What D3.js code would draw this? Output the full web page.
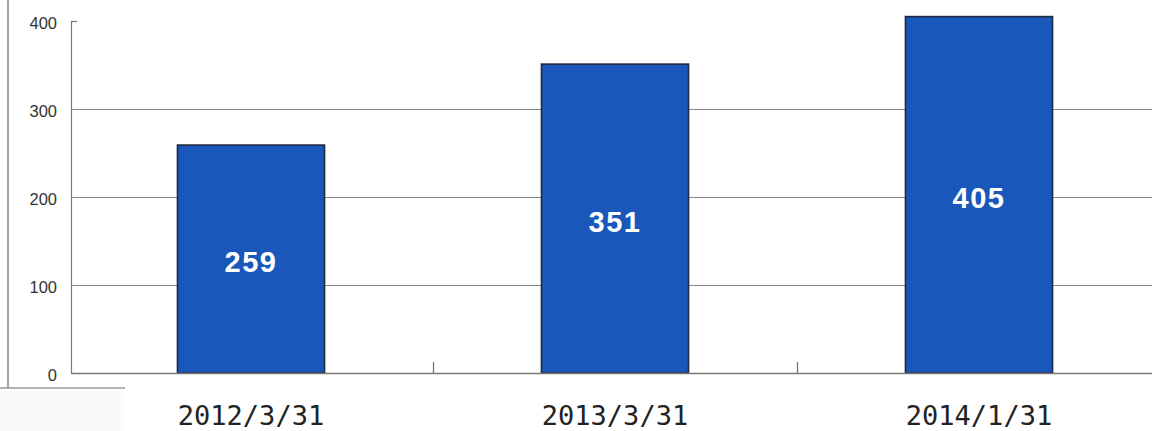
<!DOCTYPE html>
<html>
<head>
<meta charset="utf-8">
<script src="https://cdn.jsdelivr.net/npm/d3@7"></script>
<style>
  html, body { margin: 0; padding: 0; background: #fff; }
  svg { display: block; }
</style>
</head>
<body>
<svg id="chart" width="1152" height="431"></svg>
<script>
// Period-end dates and the value recorded at each
const categories = ["2012/3/31", "2013/3/31", "2014/1/31"];
const values = [259, 351, 405];
const yTicks = [0, 100, 200, 300, 400];

const W = 1152, H = 431;
const axisX = 71;       // left axis line
const plotTop = 21, plotBottom = 373;

const svg = d3.select("#chart");

const y = d3.scaleLinear().domain([0, 400]).range([plotBottom, plotTop]);

const x = d3.scaleBand()
  .domain(categories)
  .range([69, 1161])
  .paddingInner(0.596)
  .paddingOuter(0.298);

// faint panel under the bottom-left corner
svg.append("rect")
  .attr("x", 0).attr("y", 390).attr("width", 124).attr("height", 41)
  .attr("fill", "#f9fafa");

// outer frame pieces at the far left
svg.append("line")
  .attr("x1", 8).attr("x2", 8).attr("y1", 0).attr("y2", 388)
  .attr("stroke", "#666").attr("stroke-width", 1.2);
svg.append("line")
  .attr("x1", 0).attr("x2", 125).attr("y1", 388).attr("y2", 388)
  .attr("stroke", "#666").attr("stroke-width", 1.2);

// horizontal gridlines (100..300), short tick at the top value
const grid = svg.append("g");
yTicks.filter(t => t > 0 && t < 400).forEach(t => {
  grid.append("line")
    .attr("x1", axisX).attr("x2", W)
    .attr("y1", Math.round(y(t)) + 0.5).attr("y2", Math.round(y(t)) + 0.5)
    .attr("stroke", "#8a8a8a").attr("stroke-width", 1);
});
grid.append("line")
  .attr("x1", axisX).attr("x2", axisX + 6)
  .attr("y1", Math.round(y(400)) + 0.5).attr("y2", Math.round(y(400)) + 0.5)
  .attr("stroke", "#777").attr("stroke-width", 1.2);

// left axis line
svg.append("line")
  .attr("x1", axisX + 0.5).attr("x2", axisX + 0.5)
  .attr("y1", y(400)).attr("y2", y(0))
  .attr("stroke", "#777").attr("stroke-width", 1.2);

// y tick labels
svg.append("g").selectAll("text")
  .data(yTicks)
  .join("text")
  .attr("x", 57)
  .attr("y", d => y(d) + 2)
  .attr("dy", "0.36em")
  .attr("text-anchor", "end")
  .attr("font-family", "Liberation Sans, Arial, sans-serif")
  .attr("font-size", 16.5)
  .attr("fill", "#333")
  .text(d => d);

// bars
svg.append("g").selectAll("rect")
  .data(values)
  .join("rect")
  .attr("x", (d, i) => x(categories[i]))
  .attr("y", d => y(d))
  .attr("width", x.bandwidth())
  .attr("height", d => y(0) - y(d))
  .attr("fill", "#1a57ba")
  .attr("stroke", "#1c2940")
  .attr("stroke-width", 1.6);

// bottom axis line with dividers between categories
svg.append("line")
  .attr("x1", axisX).attr("x2", W)
  .attr("y1", plotBottom + 0.5).attr("y2", plotBottom + 0.5)
  .attr("stroke", "#777").attr("stroke-width", 1.3);

const step = x.step();
const dividers = categories.slice(1).map(c => x(c) - x.paddingInner() * step / 2);
svg.append("g").selectAll("line")
  .data(dividers)
  .join("line")
  .attr("x1", d => Math.round(d) + 0.5).attr("x2", d => Math.round(d) + 0.5)
  .attr("y1", plotBottom - 11).attr("y2", plotBottom)
  .attr("stroke", "#777").attr("stroke-width", 1.3);

// value labels inside bars
svg.append("g").selectAll("text")
  .data(values)
  .join("text")
  .attr("x", (d, i) => x(categories[i]) + x.bandwidth() / 2)
  .attr("y", d => (y(d) + y(0)) / 2 + 3)
  .attr("dy", "0.36em")
  .attr("text-anchor", "middle")
  .attr("font-family", "Liberation Sans, Arial, sans-serif")
  .attr("font-weight", "bold")
  .attr("font-size", 29)
  .attr("letter-spacing", 1.5)
  .attr("fill", "#fff")
  .text(d => d);

// category labels
svg.append("g").selectAll("text")
  .data(categories)
  .join("text")
  .attr("x", d => x(d) + x.bandwidth() / 2)
  .attr("y", 425)
  .attr("text-anchor", "middle")
  .attr("font-family", "DejaVu Sans Mono, monospace")
  .attr("font-size", 27)
  .attr("fill", "#222")
  .text(d => d);
</script>
</body>
</html>
